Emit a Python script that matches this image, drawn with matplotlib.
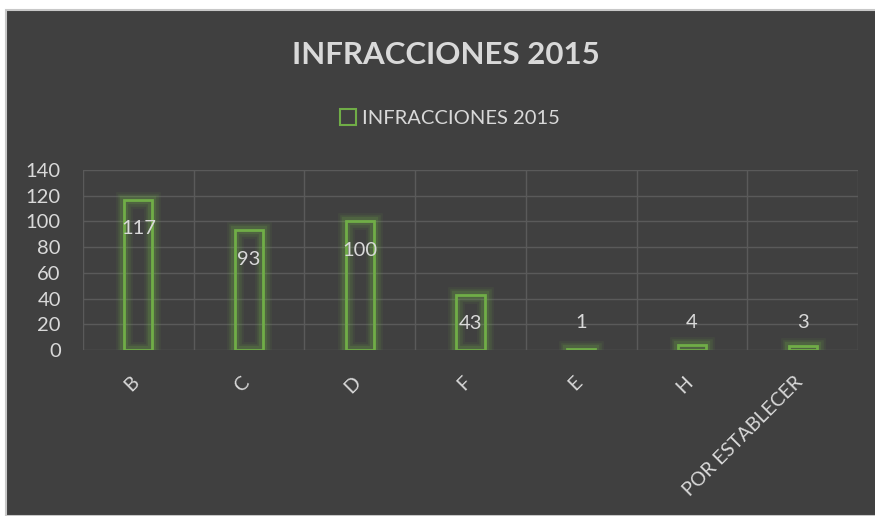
import matplotlib.pyplot as plt
import matplotlib.patches as mpatches
import matplotlib.transforms as mtransforms
import numpy as np

categories = ["B", "C", "D", "F", "E", "H", "POR ESTABLECER"]
values = [117, 93, 100, 43, 1, 4, 3]
series_name = "INFRACCIONES 2015"
yticks = [0, 20, 40, 60, 80, 100, 120, 140]

bg = "#404040"
green = "#70AD47"
txt = "#D9D9D9"
grid_c = "#5A5A5A"
font = "Lato"

fig = plt.figure(figsize=(8.75, 5.16), dpi=100, facecolor="white")
# chart area with thin light border, like the Excel chart frame
frame = mpatches.Rectangle((6 / 875, 0), 1, 1 - 10 / 516, transform=fig.transFigure,
                           facecolor=bg, edgecolor="#C8C8C8", linewidth=1.5, zorder=-10)
fig.patches.append(frame)

ax = fig.add_axes([83 / 875, 1 - 350 / 516, 775 / 875, 180 / 516])
ax.set_facecolor(bg)
ax.patch.set_alpha(0)

x = np.arange(len(categories))
w = 0.255
# glow layers
for lw, a in [(12, 0.08), (9, 0.12), (6, 0.18)]:
    ax.bar(x, values, width=w, facecolor="none", edgecolor=green, linewidth=lw, alpha=a, zorder=2)
ax.bar(x, values, width=w, facecolor="none", edgecolor=green, linewidth=2, zorder=3)

for i, v in enumerate(values):
    if v > 25:
        ax.annotate(str(v), (i, v), xytext=(0, -21), textcoords="offset points",
                    ha="center", va="center", color=txt, fontsize=14.5, family=font, zorder=4)
    else:
        ax.annotate(str(v), (i, 0), xytext=(0, 20), textcoords="offset points",
                    ha="center", va="center", color=txt, fontsize=14.5, family=font, zorder=4)

ax.set_xlim(-0.5, len(categories) - 0.5)
ax.set_ylim(0, 140)
ax.set_yticks(yticks)
ax.set_yticklabels([str(t) for t in yticks], family=font, fontsize=14.5, color=txt)
ax.set_xticks(x)
ax.set_xticklabels(categories, rotation=45, ha="right", va="top", rotation_mode="anchor",
                   family=font, fontsize=14, color=txt)
ax.tick_params(axis="x", length=0, pad=17)
ax.tick_params(axis="y", length=0, pad=16)
shift = mtransforms.ScaledTranslation(-6 / 72, 0, fig.dpi_scale_trans)
for lab in ax.get_xticklabels():
    lab.set_transform(lab.get_transform() + shift)

ax.set_xticks(np.arange(-0.5, len(categories)), minor=True)
ax.tick_params(axis="x", which="minor", length=0)
ax.grid(True, which="minor", axis="x", color=grid_c, linewidth=1)
ax.grid(True, which="major", axis="y", color=grid_c, linewidth=1)
ax.set_axisbelow(True)
for s in ax.spines.values():
    s.set_visible(False)

fig.text(446 / 875, 1 - 55 / 516, series_name, ha="center", va="center",
         fontsize=22.5, fontweight="bold", color=txt, family=font)

handle = mpatches.Patch(facecolor="none", edgecolor=green, linewidth=1.5, label=series_name)
fig.legend(handles=[handle], loc="center", bbox_to_anchor=(450 / 875, 1 - 118 / 516),
           frameon=False, handlelength=0.8, handleheight=0.8, handletextpad=0.3,
           prop={"family": font, "size": 14.5}, labelcolor=txt)

fig.savefig("out.png", dpi=100, facecolor="white")
